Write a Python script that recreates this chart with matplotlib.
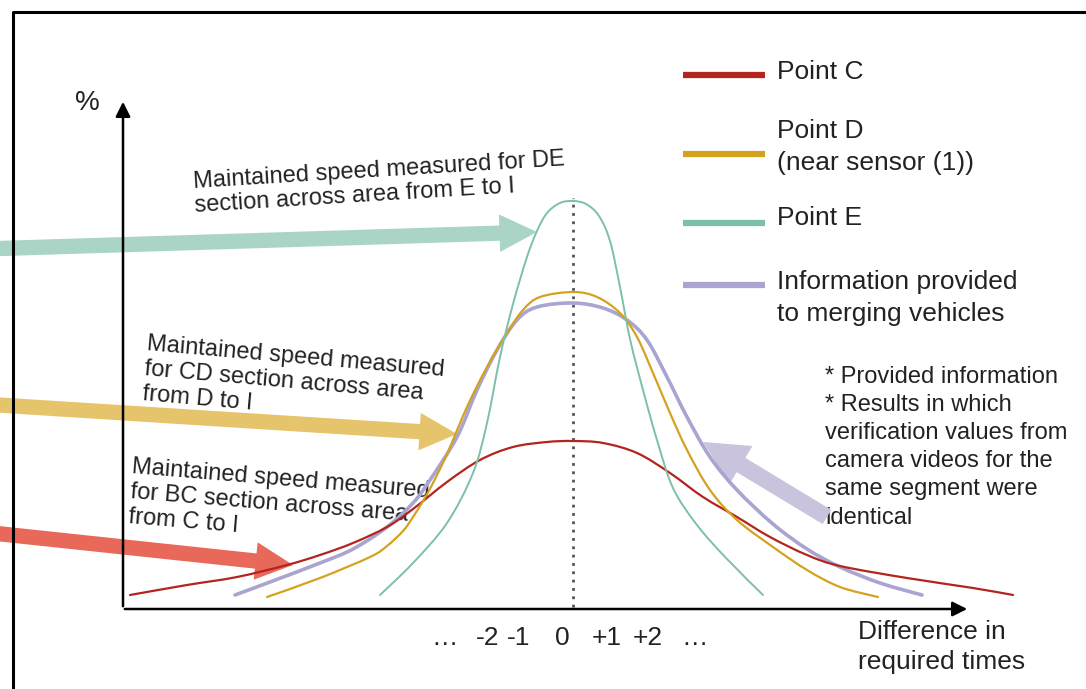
import numpy as np
import matplotlib
matplotlib.use("Agg")
import matplotlib.pyplot as plt
from matplotlib.patches import FancyArrowPatch, ArrowStyle, PathPatch
from matplotlib.path import Path

plt.rcParams["font.family"] = ["Liberation Sans", "DejaVu Sans"]

# curve values (x: difference, y: share), schematic units
red_x = [-443, -386, -336, -286, -253, -220, -186, -160, -126, -93, -60, -26, 0,
         30, 64, 97, 130, 164, 197, 234, 267, 334, 400, 440]
red_y = [14, 24, 32, 44, 54, 66, 82, 100, 127, 149, 162, 167, 168,
         166, 156, 136, 112, 92, 72, 54, 43, 31, 21, 14]

yellow_x = [-306, -253, -203, -186, -170, -160, -150, -140, -126, -106, -86, -66, -50, -33, 0,
            24, 47, 64, 80, 97, 114, 137, 164, 200, 234, 267, 305]
yellow_y = [12, 31, 52, 63, 78, 92, 108, 126, 155, 202, 242, 276, 299, 312, 317,
            312, 296, 272, 236, 196, 159, 119, 89, 62, 39, 22, 12]

teal_x = [-193, -160, -126, -100, -86, -73, -60, -46, -36, -26, -13, 0,
          13, 26, 37, 47, 57, 70, 84, 100, 124, 154, 190]
teal_y = [14, 46, 86, 136, 186, 252, 305, 352, 378, 396, 406, 408,
          405, 393, 368, 322, 270, 219, 169, 121, 84, 50, 14]

purple_x = [-338, -303, -253, -220, -186, -160, -143, -116, -96, -76, -56, -36, 0,
            30, 54, 74, 94, 114, 137, 164, 200, 234, 267, 307, 349]
purple_y = [14, 27, 46, 60, 82, 106, 129, 172, 219, 259, 289, 302, 306,
            301, 289, 269, 232, 192, 152, 119, 85, 60, 42, 26, 14]

labels = ["Point C", "Point D\n(near sensor (1))", "Point E",
          "Information provided\nto merging vehicles"]
colors = ["#b3241f", "#d4a21e", "#7cc0a9", "#a9a4d0"]
widths = [1.6, 1.6, 1.4, 2.6]
tick_labels = ["…", "-2", "-1", "0", "+1", "+2", "…"]
tick_pos = [-128, -85, -54, -11, 34, 75, 122]

TXT = "#222222"


def smooth_path(xs, ys):
    # cubic bezier through the read points (catmull-rom style handles)
    pts = np.column_stack([xs, ys]).astype(float)
    n = len(pts)
    verts = [pts[0]]
    codes = [Path.MOVETO]
    for i in range(n - 1):
        p0 = pts[i - 1] if i > 0 else pts[i]
        p1, p2 = pts[i], pts[i + 1]
        p3 = pts[i + 2] if i + 2 < n else pts[i + 1]
        verts += [p1 + (p2 - p0) / 6, p2 - (p3 - p1) / 6, p2]
        codes += [Path.CURVE4] * 3
    return Path(verts, codes)


fig = plt.figure(figsize=(10.86, 6.89), dpi=100)
ax = fig.add_axes([0, 0, 1, 1])
ax.set_xlim(-573, 513)
ax.set_ylim(-80, 609)
ax.axis("off")

# outer frame
ax.plot([-560, -560, 520], [-90, 597, 597], color="black", lw=2.2, clip_on=False, zorder=5)

# axes arrows
ax.annotate("", xy=(-450, 510), xytext=(-450, 0),
            arrowprops=dict(arrowstyle="-|>", color="black", lw=1.8, mutation_scale=22), zorder=5)
ax.annotate("", xy=(397, 0), xytext=(-451, 0),
            arrowprops=dict(arrowstyle="-|>", color="black", lw=1.8, mutation_scale=22), zorder=5)
ax.plot([0, 0], [2, 411], color="#555555", lw=2, linestyle=(0, (1, 2)), zorder=2)

ax.text(-486, 506, "%", fontsize=20, color=TXT, ha="center", va="center")

# curves
series = [(red_x, red_y), (yellow_x, yellow_y), (teal_x, teal_y), (purple_x, purple_y)]
for i in [3, 0, 1, 2]:
    xs, ys = series[i]
    ax.add_patch(PathPatch(smooth_path(xs, ys), fill=False, edgecolor=colors[i],
                           lw=widths[i], capstyle="round", zorder=4))

# legend drawn by hand
leg_y = [534, 455, 386, 324]
txt_y = [537, 462, 391, 311]
for i in range(4):
    ax.plot([110, 192], [leg_y[i], leg_y[i]], color=colors[i], lw=4.5, solid_capstyle="butt")
    ax.text(204, txt_y[i], labels[i], fontsize=19, color=TXT, ha="left", va="center",
            linespacing=1.38)


def block_arrow(start, end, color, tail=11, head=27):
    style = ArrowStyle.Simple(head_length=head, head_width=head, tail_width=tail)
    p = FancyArrowPatch(start, end, arrowstyle=style, mutation_scale=1, color=color,
                        shrinkA=0, shrinkB=0, lw=0, zorder=1, clip_on=False)
    ax.add_patch(p)


block_arrow((-590, 360), (-36, 377), "#a9d4c6")
block_arrow((-590, 205), (-116, 175), "#e6c46c")
block_arrow((-590, 77), (-280, 44), "#e8685a")
block_arrow((254, 92), (130, 167), "#c9c3de", tail=12, head=32)

ax.text(-380, 438, "Maintained speed measured for DE\nsection across area from E to I",
        fontsize=17, color=TXT, ha="left", va="top", rotation=3.5, rotation_mode="anchor",
        linespacing=1.1, zorder=3)
ax.text(-425, 276, "Maintained speed measured\nfor CD section across area\nfrom D to I",
        fontsize=17, color=TXT, ha="left", va="top", rotation=-5, rotation_mode="anchor",
        linespacing=1.18, zorder=3)
ax.text(-440, 153, "Maintained speed measured\nfor BC section across area\nfrom C to I",
        fontsize=17, color=TXT, ha="left", va="top", rotation=-4.7, rotation_mode="anchor",
        linespacing=1.18, zorder=3)

ax.text(252, 243, "* Provided information\n* Results in which\nverification values from\n"
        "camera videos for the\nsame segment were\nidentical",
        fontsize=17, color=TXT, ha="left", va="top", linespacing=1.36, zorder=0)

for pos, lab in zip(tick_pos, tick_labels):
    ax.text(pos, -29, lab, fontsize=19, color=TXT, ha="center", va="center")
ax.text(285, -38, "Difference in\nrequired times", fontsize=19, color=TXT,
        ha="left", va="center", linespacing=1.3)

fig.savefig("out.png", dpi=100)
